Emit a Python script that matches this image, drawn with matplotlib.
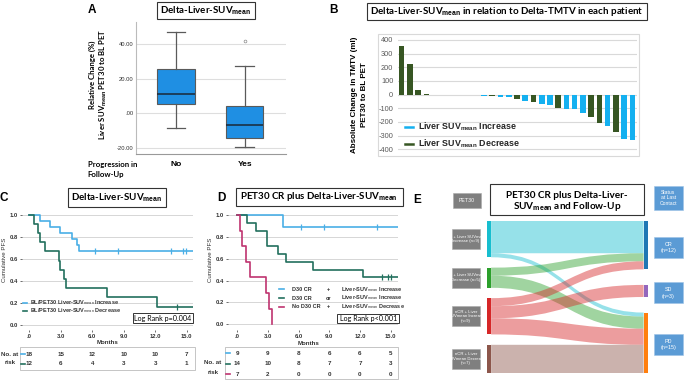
import matplotlib
matplotlib.use('Agg')
import matplotlib.pyplot as plt
import numpy as np
from matplotlib.patches import Rectangle, PathPatch
from matplotlib.path import Path
from matplotlib.lines import Line2D

plt.rcParams['font.family'] = ['Liberation Sans', 'DejaVu Sans']
plt.rcParams['mathtext.fontset'] = 'custom'
plt.rcParams['mathtext.rm'] = 'Liberation Sans'
plt.rcParams['mathtext.bf'] = 'Liberation Sans:bold'
plt.rcParams['mathtext.it'] = 'Liberation Sans:italic'
TF = 'Lato'

# ---------------- data ----------------
# Panel A
prog_groups = ['No', 'Yes']
box_whislo = [-8.7, -19.8]
box_q1 = [5.3, -14.1]
box_med = [11.1, -6.7]
box_q3 = [25.6, 4.3]
box_whishi = [47.0, 27.2]
box_outliers = [[], [41.7]]

# Panel B
tmtv_change = [356, 227, 37, 3, -3, -3, -3, -4, -4, -5, -8, -12, -14, -18, -29,
               -44, -54, -71, -78, -95, -103, -108, -132, -166, -208, -230, -274, -323, -330]
liver_dir = ['D', 'D', 'D', 'D', 'I', 'I', 'I', 'I', 'I', 'I', 'I', 'D', 'I', 'I', 'D',
             'I', 'D', 'I', 'I', 'D', 'I', 'I', 'I', 'D', 'D', 'I', 'D', 'I', 'I']
b_yticks = [-400, -300, -200, -100, 0, 100, 200, 300, 400]

# Panel C
c_inc_events = [1.02, 1.97, 2.96, 4.07, 4.50, 4.74]
c_inc_censored = [6.26, 8.43, 13.48, 14.68, 14.91]
c_inc_n = 18
c_dec_events = [0.48, 0.80, 1.05, 1.53, 2.80, 2.95, 3.34, 3.50, 7.44, 12.17]
c_dec_censored = [14.11]
c_dec_n = 12
risk_months = [0, 3, 6, 9, 12, 15]
month_labels = ['.0', '3.0', '6.0', '9.0', '12.0', '15.0']
c_risk_inc = [18, 15, 12, 10, 10, 7]
c_risk_dec = [12, 6, 4, 3, 3, 1]

# Panel D
d_cr_inc_events = [4.52]
d_cr_inc_censored = [6.24, 8.46, 13.63]
d_cr_inc_n = 9
d_mix_events = [0.98, 1.85, 2.89, 2.89, 3.97, 4.75, 7.45, 12.26]
d_mix_censored = [14.11, 14.77, 14.99]
d_mix_n = 14
d_none_events = [0.29, 0.52, 0.91, 1.30, 2.80, 3.15, 3.41]
d_none_censored = []
d_none_n = 7
d_risk_cr_inc = [9, 9, 8, 6, 6, 5]
d_risk_mix = [14, 10, 8, 7, 7, 3]
d_risk_none = [7, 2, 0, 0, 0, 0]

# Panel E
e_left_labels = ['CR + Liver SUVmean\nIncrease (n=9)', 'CR + Liver SUVmean\nDecrease (n=5)',
                 'nCR + Liver\nSUVmean Increase\n(n=9)', 'nCR + Liver\nSUVmean Decrease\n(n=7)']
e_right_labels = ['CR\n(n=12)', 'SD\n(n=3)', 'PD\n(n=15)']
flow_src = [0, 0, 1, 1, 2, 2, 2, 3]
flow_tgt = [0, 2, 0, 2, 0, 1, 2, 2]
flow_val = [8, 1, 2, 3, 2, 3, 4, 7]

# ---------------- helpers ----------------
W, H = 685, 380
fig = plt.figure(figsize=(6.85, 3.8), dpi=100)
fig.patch.set_facecolor('white')


def add_ax(x0, y0, x1, y1):
    return fig.add_axes([x0 / W, 1 - y1 / H, (x1 - x0) / W, (y1 - y0) / H])


def text(x, y, s, **kw):
    kw.setdefault('ha', 'center')
    kw.setdefault('va', 'center')
    return fig.text(x / W, 1 - y / H, s, **kw)


def rect(x0, y0, x1, y1, fc='none', ec='#333333', lw=0.8, z=1):
    fig.add_artist(Rectangle((x0 / W, 1 - y1 / H), (x1 - x0) / W, (y1 - y0) / H,
                             transform=fig.transFigure, fc=fc, ec=ec, lw=lw, zorder=z))


def hline(x0, x1, y, color, lw):
    fig.add_artist(Line2D([x0 / W, x1 / W], [1 - y / H, 1 - y / H],
                          transform=fig.transFigure, color=color, lw=lw))


def km(events, censored, n, tmax):
    times = sorted(set(events) | set(censored))
    s, at = 1.0, n
    xs, ys = [0.0], [1.0]
    cx, cy = [], []
    for t in times:
        d = events.count(t)
        c = censored.count(t)
        if d:
            s *= (1 - d / at)
            xs.append(t)
            ys.append(s)
        if c:
            cx.append(t)
            cy.append(s)
        at -= d + c
    if s > 0:
        xs.append(tmax)
        ys.append(s)
    return xs, ys, cx, cy


BLUE = '#4aafe6'
TEAL = '#22705e'
CRIM = '#bf3370'
TXT = '#333333'

# ---------------- Panel A ----------------
text(92, 10, 'A', fontsize=8.5, weight='bold')
rect(157, 2, 255, 19)
text(206, 11, r'Delta-Liver-SUV$_{\mathbf{mean}}$', fontsize=7, weight='bold', family=TF)
axA = add_ax(136, 22, 286, 154)
stats = [dict(med=box_med[i], q1=box_q1[i], q3=box_q3[i], whislo=box_whislo[i],
              whishi=box_whishi[i], fliers=box_outliers[i]) for i in range(2)]
axA.bxp(stats, positions=[1, 2], widths=0.54, capwidths=0.27, patch_artist=True,
        boxprops=dict(facecolor='#1f8fe3', edgecolor='#5a5a5a', lw=0.8),
        medianprops=dict(color='#1b2838', lw=1.1),
        whiskerprops=dict(color='#5a5a5a', lw=0.9),
        capprops=dict(color='#5a5a5a', lw=0.9),
        flierprops=dict(marker='o', ms=2, mfc='none', mec='#888888', mew=0.5))
axA.set_xlim(0.418, 2.6)
axA.set_ylim(-23.6, 52.9)
axA.set_yticks([-20, 0, 20, 40], ['-20.00', '.00', '20.00', '40.00'])
axA.set_xticks([1, 2], prog_groups)
axA.tick_params(axis='y', labelsize=4.2, length=0, pad=2, colors=TXT)
axA.tick_params(axis='x', labelsize=6, length=0, pad=5)
for lab in axA.get_xticklabels():
    lab.set_fontweight('bold')
axA.grid(axis='y', color='#dedede', lw=0.8)
axA.set_axisbelow(True)
for sp in ['top', 'right']:
    axA.spines[sp].set_visible(False)
axA.spines['left'].set_color('#bbbbbb')
axA.spines['bottom'].set_color('#999999')
text(92.5, 75, 'Relative Change (%)', fontsize=5.6, weight='bold', rotation=90, family=TF)
text(103, 84, r'Liver SUV$_{\mathbf{mean}}$ PET30 to BL PET', fontsize=5.6, weight='bold',
     rotation=90, family=TF)
text(87.5, 164, 'Progression in', fontsize=5.6, weight='bold', ha='left', family=TF)
text(87.5, 174, 'Follow-Up', fontsize=5.6, weight='bold', ha='left', family=TF)

# ---------------- Panel B ----------------
text(334, 10, 'B', fontsize=8.5, weight='bold')
rect(367.3, 2.5, 647.3, 20)
text(507, 11.3, r'Delta-Liver-SUV$_{\mathbf{mean}}$ in relation to Delta-TMTV in each patient',
     fontsize=7, weight='bold', family=TF)
rect(378.3, 34.3, 639, 156, ec='#d9d9d9', lw=0.8)
axB = add_ax(397.5, 36, 636.5, 152)
GREEN = '#375623'
LBLUE = '#14b0f0'
xb = np.arange(len(tmtv_change))
axB.bar(xb, tmtv_change, width=0.68,
        color=[GREEN if d == 'D' else LBLUE for d in liver_dir], zorder=3)
axB.set_xlim(-0.5, len(tmtv_change) - 0.5)
axB.set_ylim(-420, 429)
axB.set_yticks(b_yticks, [str(v) for v in b_yticks])
axB.set_xticks([])
axB.tick_params(axis='y', labelsize=5.3, length=0, pad=3, colors='#595959')
axB.grid(axis='y', color='#d9d9d9', lw=0.8)
axB.set_axisbelow(True)
for sp in axB.spines.values():
    sp.set_visible(False)
hline(405, 413, 127, LBLUE, 1.8)
hline(405, 413, 143.7, GREEN, 1.8)
text(417.7, 127, r'Liver SUV$_{\mathbf{mean}}$ Increase', fontsize=6.4, weight='bold', ha='left',
     color='#262626')
text(417.7, 143.7, r'Liver SUV$_{\mathbf{mean}}$ Decrease', fontsize=6.4, weight='bold', ha='left',
     color='#262626')
text(355, 95, 'Absolute Change in TMTV (ml)', fontsize=5.8, weight='bold', rotation=90)
text(365, 95, 'PET30 to BL PET', fontsize=5.8, weight='bold', rotation=90)


# ---------------- KM panels ----------------
def km_axes(x0, x1, xzero, pxm, y1px, y0px):
    ax = add_ax(x0, 210, x1, 330)
    ax.set_xlim(-(xzero - x0) / pxm, (x1 - xzero) / pxm)
    ppu = y0px - y1px
    ax.set_ylim(-(330 - y0px) / ppu, 1 + (y1px - 210) / ppu)
    ax.set_yticks([0, 0.2, 0.4, 0.6, 0.8, 1.0], ['0.0', '0.2', '0.4', '0.6', '0.8', '1.0'])
    ax.set_xticks(risk_months, month_labels)
    ax.tick_params(labelsize=4.2, length=1.5, width=0.5, pad=1.5, colors=TXT)
    for lab in ax.get_xticklabels() + ax.get_yticklabels():
        lab.set_fontweight('bold')
    ax.grid(axis='y', color='#d6d6d6', lw=0.7)
    ax.set_axisbelow(True)
    for sp in ax.spines.values():
        sp.set_visible(False)
    return ax


def draw_km(ax, events, censored, n, color):
    xs, ys, cx, cy = km(events, censored, n, ax.get_xlim()[1])
    ax.step(xs, ys, where='post', color=color, lw=1.2, zorder=3)
    ax.plot(cx, cy, ls='none', marker='|', ms=4, mew=0.9, color=color, zorder=3)


# Panel C
text(4, 198, 'C', fontsize=8.5, weight='bold')
rect(68.3, 188, 166, 207)
text(117, 197.5, r'Delta-Liver-SUV$_{\mathbf{mean}}$', fontsize=7, weight='bold', family=TF)
axC = km_axes(22, 193, 29.3, 10.49, 214.7, 325)
draw_km(axC, c_inc_events, c_inc_censored, c_inc_n, BLUE)
draw_km(axC, c_dec_events, c_dec_censored, c_dec_n, TEAL)
hline(23, 27, 302.7, BLUE, 1.2)
hline(23, 27, 311, TEAL, 1.2)
text(30, 302.7, r'BL/PET30 Liver-SUV$_{\mathrm{mean}}$ Increase', fontsize=4, ha='left', color=TXT,
     weight='bold')
text(30, 311, r'BL/PET30 Liver-SUV$_{\mathrm{mean}}$ Decrease', fontsize=4, ha='left', color=TXT,
     weight='bold')
rect(132.7, 313, 193.3, 322.7, fc='white', ec='#333333', lw=0.7, z=4)
text(163, 318, 'Log Rank p=0.004', fontsize=5.1, family=TF, zorder=5)
text(107.7, 343, 'Months', fontsize=4.4, weight='bold', color=TXT)
text(5, 260, 'Cumulative PFS', fontsize=4.4, rotation=90, color=TXT)
rect(20, 347, 195, 370, ec='#bbbbbb', lw=0.6)
axCr = add_ax(22, 347, 193, 370)
axCr.set_xlim(axC.get_xlim())
axCr.set_ylim(370, 347)
axCr.axis('off')
for row_y, vals, col in [(354, c_risk_inc, BLUE), (363.7, c_risk_dec, TEAL)]:
    hline(21, 25, row_y, col, 1.2)
    for m, v in zip(risk_months, vals):
        axCr.text(m, row_y, str(v), fontsize=4.5, weight='bold', ha='center', va='center',
                  color=TXT)
text(10, 354, 'No. at', fontsize=4.5, weight='bold', color=TXT)
text(10, 363, 'risk', fontsize=4.5, weight='bold', color=TXT)

# Panel D
text(221.7, 198, 'D', fontsize=8.5, weight='bold')
rect(236, 188, 402.7, 205.7)
text(319.3, 197, r'PET30 CR plus Delta-Liver-SUV$_{\mathbf{mean}}$', fontsize=7, weight='bold',
     family=TF)
axD = km_axes(228, 398, 237, 10.25, 215, 324.3)
draw_km(axD, d_cr_inc_events, d_cr_inc_censored, d_cr_inc_n, BLUE)
draw_km(axD, d_mix_events, d_mix_censored, d_mix_n, TEAL)
draw_km(axD, d_none_events, d_none_censored, d_none_n, CRIM)
for row_y, col, a, b, c in [(289.3, BLUE, 'D30 CR', '+', r'Liver-SUV$_{\mathrm{mean}}$ Increase'),
                            (298, TEAL, 'D30 CR', 'or', r'Liver-SUV$_{\mathrm{mean}}$ Increase'),
                            (307, CRIM, 'No D30 CR', '+', r'Liver-SUV$_{\mathrm{mean}}$ Decrease')]:
    hline(278.5, 283.5, row_y, col, 1.2)
    text(291.7, row_y, a, fontsize=4, ha='left', weight='bold', color=TXT)
    text(328.3, row_y, b, fontsize=4, weight='bold', color=TXT)
    text(340.7, row_y, c, fontsize=4, ha='left', weight='bold', color=TXT)
rect(337.3, 314, 399.3, 323.3, fc='white', ec='#333333', lw=0.7, z=4)
text(368.3, 318.7, 'Log Rank p<0.001', fontsize=5.1, family=TF, zorder=5)
text(308.3, 343.3, 'Months', fontsize=4.4, weight='bold', color=TXT)
text(210.7, 260, 'Cumulative PFS', fontsize=4.4, rotation=90, color=TXT)
rect(225, 347, 398, 379.3, ec='#bbbbbb', lw=0.6)
axDr = add_ax(228, 347, 398, 379)
axDr.set_xlim(axD.get_xlim())
axDr.set_ylim(379, 347)
axDr.axis('off')
for row_y, vals, col in [(353.3, d_risk_cr_inc, BLUE), (363.7, d_risk_mix, TEAL),
                         (374.3, d_risk_none, CRIM)]:
    hline(225.5, 230, row_y, col, 1.2)
    for m, v in zip(risk_months, vals):
        axDr.text(m, row_y, str(v), fontsize=4.5, weight='bold', ha='center', va='center',
                  color=TXT)
text(213, 363, 'No. at', fontsize=4.5, weight='bold', color=TXT)
text(213, 372, 'risk', fontsize=4.5, weight='bold', color=TXT)

# ---------------- Panel E (Sankey) ----------------
text(416.7, 200, 'E', fontsize=8.5, weight='bold')
rect(490, 184.3, 644.3, 215)
text(567, 195, 'PET30 CR plus Delta-Liver-', fontsize=7.2, family=TF, weight='bold')
text(567, 206.5, r'SUV$_{\mathbf{mean}}$ and Follow-Up', fontsize=7.2, family=TF, weight='bold')
GREY = '#7f7f7f'
SBLUE = '#5b9bd5'
rect(452.7, 192.7, 480.7, 208.3, fc=GREY, ec='#aaaaaa', lw=0.4)
text(466.7, 200.5, 'PET30', fontsize=3.8, color='white')
rect(654, 186, 682.7, 210, fc=SBLUE, ec='#9dc3e6', lw=0.4)
text(668.3, 198, 'Status\nat Last\nContact', fontsize=3.6, color='white', linespacing=1.1)

ex0, ex1, ey0, ey1 = 486.7, 648, 221, 373
axE = add_ax(ex0, ey0, ex1, ey1)
ppu_e = 4.03
HU = (ey1 - ey0) / ppu_e
axE.set_xlim(0, 1)
axE.set_ylim(HU, 0)
axE.axis('off')
nw = 4.4 / (ex1 - ex0)
n_left, n_right = len(e_left_labels), len(e_right_labels)
left_size = [sum(v for s, v in zip(flow_src, flow_val) if s == i) for i in range(n_left)]
right_size = [sum(v for t, v in zip(flow_tgt, flow_val) if t == i) for i in range(n_right)]
gapL = (HU - sum(left_size)) / (n_left - 1)
gapR = (HU - sum(right_size)) / (n_right - 1)
left_top = np.concatenate([[0], np.cumsum(np.array(left_size[:-1]) + gapL)])
right_top = np.concatenate([[0], np.cumsum(np.array(right_size[:-1]) + gapR)])
left_cols = ['#17becf', '#2ca02c', '#d62728', '#8c564b']
right_cols = ['#1f77b4', '#9467bd', '#ff7f0e']

src_off = list(left_top)
tgt_off = list(right_top)
order = sorted(range(len(flow_val)), key=lambda k: (flow_src[k], flow_tgt[k]))
tgt_pos = {}
for k in sorted(range(len(flow_val)), key=lambda k: (flow_tgt[k], flow_src[k])):
    tgt_pos[k] = tgt_off[flow_tgt[k]]
    tgt_off[flow_tgt[k]] += flow_val[k]
for k in order:
    s0 = src_off[flow_src[k]]
    s1 = s0 + flow_val[k]
    src_off[flow_src[k]] = s1
    t0 = tgt_pos[k]
    t1 = t0 + flow_val[k]
    xa, xb2, xm = nw, 1 - nw, 0.5
    verts = [(xa, s0), (xm, s0), (xm, t0), (xb2, t0), (xb2, t1),
             (xm, t1), (xm, s1), (xa, s1), (xa, s0)]
    codes = [Path.MOVETO, Path.CURVE4, Path.CURVE4, Path.CURVE4, Path.LINETO,
             Path.CURVE4, Path.CURVE4, Path.CURVE4, Path.CLOSEPOLY]
    axE.add_patch(PathPatch(Path(verts, codes), fc=left_cols[flow_src[k]], alpha=0.45,
                            ec='none', zorder=2))
for i in range(n_left):
    axE.add_patch(Rectangle((0, left_top[i]), nw, left_size[i], fc=left_cols[i], ec='none',
                            zorder=3))
    cy = ey0 + (left_top[i] + left_size[i] / 2) * ppu_e
    rect(452, cy - 10, 480, cy + 10, fc=GREY, ec='#aaaaaa', lw=0.4)
    text(466, cy, e_left_labels[i], fontsize=3.1, color='white', linespacing=1.15)
for i in range(n_right):
    axE.add_patch(Rectangle((1 - nw, right_top[i]), nw, right_size[i], fc=right_cols[i],
                            ec='none', zorder=3))
    cy = ey0 + (right_top[i] + right_size[i] / 2) * ppu_e + 2
    rect(654, cy - 10.5, 682.7, cy + 10.5, fc=SBLUE, ec='#9dc3e6', lw=0.4)
    text(668.3, cy, e_right_labels[i], fontsize=3.9, color='white', linespacing=1.3)

fig.savefig('out.png', dpi=100, facecolor='white')
